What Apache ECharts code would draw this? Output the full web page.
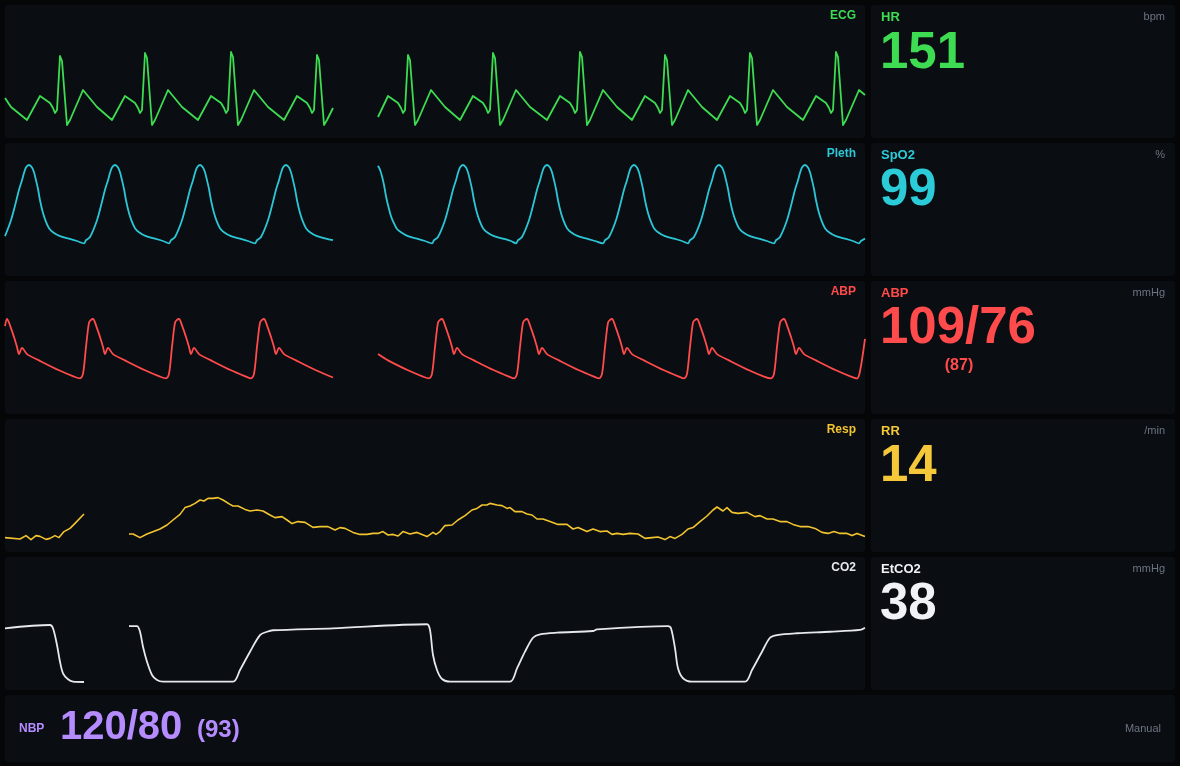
<!DOCTYPE html>
<html>
<head>
<meta charset="utf-8">
<title>Patient monitor</title>
<script src="https://cdn.jsdelivr.net/npm/echarts@6/dist/echarts.min.js"></script>
<style>
  html, body { margin: 0; padding: 0; background: #040608; }
  #monitor { width: 1180px; height: 766px; }
</style>
</head>
<body>
<div id="monitor"></div>
<script>
// x values are sample indices across the 860-sample sweep, null marks the erase gap

// ECG, mV
var ecgData = [
  [0,0.44],[6,0.26],[22,0],[35,0.48],[45,0.34],[48,0.24],[50,0.14],[52,0.20],[55,1.28],[56,1.30],[57,1.18],[62,-0.10],[65,0],[78,0.60],[92,0.26],
  [107,0],[120,0.48],[130,0.34],[133,0.24],[135,0.14],[137,0.20],[140,1.34],[141,1.36],[142,1.24],[147,-0.10],[150,0],[163,0.60],[177,0.26],
  [193,0],[206,0.48],[216,0.34],[219,0.24],[221,0.14],[223,0.20],[226,1.36],[227,1.38],[228,1.26],[233,-0.10],[236,0],[249,0.60],[263,0.26],
  [279,0],[292,0.48],[302,0.34],[305,0.24],[307,0.14],[309,0.20],[312,1.30],[313,1.32],[314,1.20],[319,-0.10],[322,0],[328,0.24],
  [350,null],
  [373,0.06],[383,0.48],[393,0.34],[396,0.24],[398,0.14],[400,0.20],[403,1.30],[404,1.32],[405,1.20],[410,-0.10],[413,0],[426,0.60],[440,0.26],
  [455,0],[468,0.48],[478,0.34],[481,0.24],[483,0.14],[485,0.20],[488,1.34],[489,1.36],[490,1.24],[495,-0.10],[498,0],[511,0.60],[525,0.26],
  [542,0],[555,0.48],[565,0.34],[568,0.24],[570,0.14],[572,0.20],[575,1.36],[576,1.38],[577,1.26],[582,-0.10],[585,0],[598,0.60],[612,0.26],
  [627,0],[640,0.48],[650,0.34],[653,0.24],[655,0.14],[657,0.20],[660,1.30],[661,1.32],[662,1.20],[667,-0.10],[670,0],[683,0.60],[697,0.26],
  [712,0],[725,0.48],[735,0.34],[738,0.24],[740,0.14],[742,0.20],[745,1.34],[746,1.36],[747,1.24],[752,-0.10],[755,0],[768,0.60],[782,0.26],
  [798,0],[811,0.48],[821,0.34],[824,0.24],[826,0.14],[828,0.20],[831,1.36],[832,1.38],[833,1.26],[838,-0.10],[841,0],[854,0.60],[860,0.50]
];

// Pleth, % of pulse amplitude
var plethData = [
  [0,11],[6,31],[11,54],[14,69],[17,81],[19,90],[21,97],[24,100],[27,97],[29,91],[31,81],[33,70],[35,56],[38,40],[41,29],[44,21],[48,16],[55,11],[64,8],[72,5],
  [79,2],[81,6],[85,10],[92,31],[97,54],[100,69],[103,81],[105,90],[107,97],[110,100],[113,97],[115,91],[117,81],[119,70],[121,56],[124,40],[127,29],[130,21],[134,16],[141,11],[150,8],[158,5],
  [164,2],[166,6],[170,10],[177,31],[182,54],[185,69],[188,81],[190,90],[192,97],[195,100],[198,97],[200,91],[202,81],[204,70],[206,56],[209,40],[212,29],[215,21],[219,16],[226,11],[235,8],[243,5],
  [250,2],[252,6],[256,10],[263,31],[268,54],[271,69],[274,81],[276,90],[278,97],[281,100],[284,97],[286,91],[288,81],[290,70],[292,56],[295,40],[298,29],[301,21],[305,16],[312,11],[321,8],[328,6],
  [350,null],
  [373,99],[375,94],[377,86],[379,75],[381,61],[383,50],[386,36],[389,27],[392,20],[396,16],[403,11],[412,8],[420,5],
  [427,2],[429,6],[433,10],[440,31],[445,54],[448,69],[451,81],[453,90],[455,97],[458,100],[461,97],[463,91],[465,81],[467,70],[469,56],[472,40],[475,29],[478,21],[482,16],[489,11],[498,8],[506,5],
  [511,2],[513,6],[517,10],[524,31],[529,54],[532,69],[535,81],[537,90],[539,97],[542,100],[545,97],[547,91],[549,81],[551,70],[553,56],[556,40],[559,29],[562,21],[566,16],[573,11],[582,8],[590,5],
  [598,2],[600,6],[604,10],[611,31],[616,54],[619,69],[622,81],[624,90],[626,97],[629,100],[632,97],[634,91],[636,81],[638,70],[640,56],[643,40],[646,29],[649,21],[653,16],[660,11],[669,8],[677,5],
  [683,2],[685,6],[689,10],[696,31],[701,54],[704,69],[707,81],[709,90],[711,97],[714,100],[717,97],[719,91],[721,81],[723,70],[725,56],[728,40],[731,29],[734,21],[738,16],[745,11],[754,8],[762,5],
  [769,2],[771,6],[775,10],[782,31],[787,54],[790,69],[793,81],[795,90],[797,97],[800,100],[803,97],[805,91],[807,81],[809,70],[811,56],[814,40],[817,29],[820,21],[824,16],[831,11],[840,8],[848,5],
  [854,2],[856,5],[860,8]
];

// ABP, mmHg
var abpData = [
  [0,105],[2,109],[5,105.5],[9,99],[12,93.5],[14,89.5],[17,93],[22,89.5],[34,86],[54,80.5],[69,77],
  [75,76],[78,78.5],[81,93.5],[84,107],[86,108.5],[88,109],[91,105.5],[95,99],[98,93.5],[100,89.5],[103,93],[108,89.5],[120,86],[140,80.5],[155,77],
  [161,76],[164,78.5],[167,93.5],[170,107],[172,108.5],[174,109],[177,105.5],[181,99],[184,93.5],[186,89.5],[189,93],[194,89.5],[206,86],[226,80.5],[241,77],
  [246,76],[249,78.5],[252,93.5],[255,107],[257,108.5],[259,109],[262,105.5],[266,99],[269,93.5],[271,89.5],[274,93],[279,89.5],[291,86],[311,80.5],[328,76.5],
  [350,null],
  [373,89.5],[383,86],[403,80.5],[418,77],
  [424,76],[427,78.5],[430,93.5],[433,107],[435,108.5],[437,109],[440,105.5],[444,99],[447,93.5],[449,89.5],[452,93],[457,89.5],[469,86],[489,80.5],[504,77],
  [509,76],[512,78.5],[515,93.5],[518,107],[520,108.5],[522,109],[525,105.5],[529,99],[532,93.5],[534,89.5],[537,93],[542,89.5],[554,86],[574,80.5],[589,77],
  [594,76],[597,78.5],[600,93.5],[603,107],[605,108.5],[607,109],[610,105.5],[614,99],[617,93.5],[619,89.5],[622,93],[627,89.5],[639,86],[659,80.5],[674,77],
  [679,76],[682,78.5],[685,93.5],[688,107],[690,108.5],[692,109],[695,105.5],[699,99],[702,93.5],[704,89.5],[707,93],[712,89.5],[724,86],[744,80.5],[759,77],
  [766,76],[769,78.5],[772,93.5],[775,107],[777,108.5],[779,109],[782,105.5],[786,99],[789,93.5],[791,89.5],[794,93],[799,89.5],[811,86],[831,80.5],[846,77],
  [852,76],[855,80],[860,98]
];

// Resp, arbitrary impedance units
var respData = [
  [0,7.2],[15,6.5],[21,8.2],[26,6.2],[31,8.2],[35,7.8],[41,6.3],[45,6.8],[50,8.2],[54,7.2],[59,10.2],[65,11.8],[70,14.3],[79,19],
  [100,null],
  [124,9],[128,9],[135,7.2],[142,9],[155,11.5],[162,13.5],[168,16],[175,18.8],[180,22.2],[185,23],[190,24.3],[195,26],[199,25.5],[203,26.8],[208,26.8],[213,27.2],[218,26],
  [225,23.8],[228,23],[233,23],[240,21.3],[245,20.5],[252,21],[258,20.5],[265,18.5],[270,17.2],[277,17.7],[282,16],[287,14.2],[293,15.2],[300,14.8],[308,12.3],[315,12.7],
  [323,12.7],[330,11],[335,12.2],[340,11.8],[348,9.8],[355,8.8],[362,8.8],[368,9.3],[373,9.3],[378,10.2],[383,8.5],[388,8.8],[393,8],[398,10.2],[405,9],[412,9.8],
  [422,7.7],[428,9.8],[431,8.8],[435,10.2],[440,13.2],[447,13.5],[453,16],[460,18.2],[467,21],[472,21.8],[477,23.5],[482,23.5],[485,24.3],[492,23.5],[497,23.2],[502,21.8],
  [505,22.2],[510,20.2],[517,20.2],[522,19],[527,18.5],[532,16.5],[538,16.5],[545,15.2],[553,13.8],[562,13.8],[568,11.5],[573,12.2],[582,10.2],[588,11.5],[595,10.2],[602,10.5],
  [607,8.8],[612,9.3],[618,8.8],[625,9.3],[633,9],[640,6.8],[647,7.2],[653,7.5],[660,6.2],[665,7.7],[670,6.8],[677,8.8],[683,11.5],[688,12.2],[695,15.2],[702,18],
  [708,21],[712,22.5],[718,20.5],[722,22.2],[727,19.8],[733,19.3],[742,19.8],[750,17.7],[755,18.2],[762,16.5],[768,16.5],[775,15.2],[782,15.2],[788,13.8],[795,12.7],[803,12.7],
  [810,11.8],[817,9.8],[823,9.3],[829,10.2],[835,9.3],[842,9.3],[847,8.2],[852,9.3],[860,7.7]
];

// CO2, mmHg
var co2Data = [
  [0,35.8],[45,38],[48,35.8],[52,24.7],[55,13.5],[58,5.8],[63,1.8],[68,0.2],[79,0],
  [100,null],
  [124,37.3],[132,37.3],[135,33.5],[138,23.5],[142,13.5],[147,4.7],[152,1.3],[158,0.2],[228,0.2],[235,8],[245,20.2],[255,31.3],[262,33.5],[268,34.5],[328,35.8],
  [422,38.5],[425,34.7],[428,18],[432,8],[437,2],[445,0.2],[505,0.2],[512,9.1],[520,20.2],[528,29.5],[535,31.8],[552,32.9],[588,34],[592,35.1],
  [663,37.3],[666,35.8],[670,22.5],[673,9.1],[678,2.5],[687,0.2],[740,0.2],[747,8],[757,20.2],[765,29.5],[772,31.3],[792,32.5],[825,33.5],[855,34.7],[860,36.2]
];

// numerics
var hrValue = 151;
var spo2Value = 99;
var abpSys = 109, abpDia = 76, abpMean = 87;
var rrValue = 14;
var etco2Value = 38;
var nbpSys = 120, nbpDia = 80, nbpMean = 93;

var FONT = "'Liberation Sans', Arial, sans-serif";
var PANEL = '#0a0d11';
var UNIT = '#6b7582';

var chart = echarts.init(document.getElementById('monitor'));

// waveform rows: label, colour, data, y range, grid top and height
var waves = [
  { name: 'ECG',   color: '#3ddc52', data: ecgData,   min: -0.4, max: 2.2,  top: 10,    height: 130, width: 1.8, smooth: false },
  { name: 'Pleth', color: '#2cc6d6', data: plethData, min: -40,  max: 130,  top: 141,   height: 136, width: 1.8, smooth: 0.3 },
  { name: 'ABP',   color: '#ff4b4b', data: abpData,   min: 50,   max: 130,  top: 281.2, height: 144, width: 1.8, smooth: 0.3 },
  { name: 'Resp',  color: '#f2c530', data: respData,  min: 0,    max: 66.5, top: 419,   height: 133, width: 1.6, smooth: false },
  { name: 'CO2',   color: '#e6e8eb', data: co2Data,   min: -5,   max: 85,   top: 554.5, height: 135, width: 1.8, smooth: 0.3 }
];

var rowTop = [5, 143, 281, 419, 557];
var rowH = 133;

var numerics = [
  { label: 'HR',    unit: 'bpm',  text: String(hrValue),       color: '#3ddc52', numY: 53.5 },
  { label: 'SpO2',  unit: '%',    text: String(spo2Value),     color: '#2ccbd8', numY: 191 },
  { label: 'ABP',   unit: 'mmHg', text: abpSys + '/' + abpDia, color: '#ff4b4b', numY: 328.5, sub: '(' + abpMean + ')' },
  { label: 'RR',    unit: '/min', text: String(rrValue),       color: '#f4c838', numY: 467 },
  { label: 'EtCO2', unit: 'mmHg', text: String(etco2Value),    color: '#f0f2f5', numY: 604.5 }
];

var graphics = [];
var grids = [], xAxes = [], yAxes = [], series = [];

waves.forEach(function (w, i) {
  var t = rowTop[i];
  graphics.push({ type: 'rect', z: 0, shape: { x: 5, y: t, width: 860, height: rowH, r: 3 }, style: { fill: PANEL } });
  graphics.push({ type: 'text', z: 10, style: { x: 856, y: t + 11, text: w.name, fill: w.color, font: 'bold 12px ' + FONT, textAlign: 'right', textVerticalAlign: 'middle' } });

  grids.push({ left: 5, width: 860, top: w.top, height: w.height, containLabel: false });
  xAxes.push({ type: 'value', gridIndex: i, min: 0, max: 860, show: false });
  yAxes.push({ type: 'value', gridIndex: i, min: w.min, max: w.max, show: false });
  series.push({
    type: 'line', xAxisIndex: i, yAxisIndex: i, data: w.data, z: 5,
    showSymbol: false, smooth: w.smooth, connectNulls: false, animation: false,
    lineStyle: { color: w.color, width: w.width, join: 'round' }
  });
});

numerics.forEach(function (n, i) {
  var t = rowTop[i];
  graphics.push({ type: 'rect', z: 0, shape: { x: 871, y: t, width: 304, height: rowH, r: 3 }, style: { fill: PANEL } });
  graphics.push({ type: 'text', z: 10, style: { x: 881, y: t + 12, text: n.label, fill: n.color, font: 'bold 13px ' + FONT, textVerticalAlign: 'middle' } });
  graphics.push({ type: 'text', z: 10, style: { x: 1165, y: t + 12, text: n.unit, fill: UNIT, font: '11px ' + FONT, textAlign: 'right', textVerticalAlign: 'middle' } });
  graphics.push({ type: 'text', z: 10, style: { x: 880, y: n.numY, text: n.text, fill: n.color, font: 'bold 51px ' + FONT, textVerticalAlign: 'middle' } });
  if (n.sub) {
    graphics.push({ type: 'text', z: 10, style: { x: 959, y: n.numY + 37.5, text: n.sub, fill: n.color, font: 'bold 16px ' + FONT, textAlign: 'center', textVerticalAlign: 'middle' } });
  }
});

// NBP strip
graphics.push({ type: 'rect', z: 0, shape: { x: 5, y: 695, width: 1170, height: 67, r: 3 }, style: { fill: PANEL } });
graphics.push({ type: 'text', z: 10, style: { x: 19, y: 728.5, text: 'NBP', fill: '#b48cff', font: 'bold 12px ' + FONT, textVerticalAlign: 'middle' } });
graphics.push({ type: 'text', z: 10, style: { x: 60, y: 728, text: nbpSys + '/' + nbpDia, fill: '#b48cff', font: 'bold 40px ' + FONT, textVerticalAlign: 'middle' } });
graphics.push({ type: 'text', z: 10, style: { x: 197, y: 730, text: '(' + nbpMean + ')', fill: '#b48cff', font: 'bold 24px ' + FONT, textVerticalAlign: 'middle' } });
graphics.push({ type: 'text', z: 10, style: { x: 1161, y: 728.5, text: 'Manual', fill: UNIT, font: '11px ' + FONT, textAlign: 'right', textVerticalAlign: 'middle' } });

chart.setOption({
  backgroundColor: '#040608',
  animation: false,
  grid: grids,
  xAxis: xAxes,
  yAxis: yAxes,
  graphic: graphics,
  series: series
});
</script>
</body>
</html>
